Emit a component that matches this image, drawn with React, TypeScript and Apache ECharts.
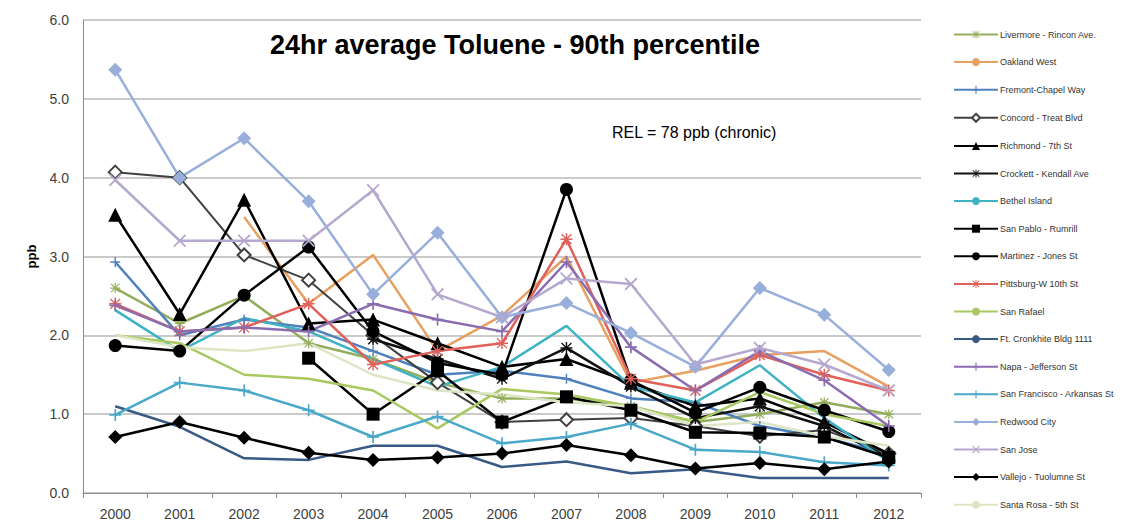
import React, { useEffect, useRef } from "react";
import * as echarts from "echarts";

const years = ["2000", "2001", "2002", "2003", "2004", "2005", "2006", "2007", "2008", "2009", "2010", "2011", "2012"];

const livermore = [2.6, 2.15, 2.5, 1.9, 1.7, 1.4, 1.2, 1.2, 1.1, 0.9, 1.0, 1.15, 1.0];
const oakland = [null, null, 3.5, 2.4, 3.02, 1.8, 2.25, 3.0, 1.4, 1.55, 1.75, 1.8, 1.35];
const fremont = [2.93, 2.0, 2.2, 2.1, 1.8, 1.5, 1.55, 1.45, 1.2, 1.15, 0.85, 0.7, 0.5];
const concord = [4.07, 4.0, 3.02, 2.7, 2.0, 1.4, 0.9, 0.93, 0.95, 0.85, 0.72, 0.8, 0.5];
const richmond = [3.53, 2.27, 3.72, 2.15, 2.2, 1.9, 1.6, 1.7, 1.4, 1.1, 1.2, 0.9, 0.5];
const crockett = [null, null, null, null, 1.95, 1.7, 1.45, 1.84, 1.35, 0.95, 1.1, 0.85, 0.45];
const bethel = [2.32, 1.8, 2.22, 2.05, 1.7, 1.35, 1.6, 2.12, 1.35, 1.15, 1.62, 0.95, 0.4];
const sanPablo = [null, null, null, 1.71, 1.0, 1.55, 0.9, 1.22, 1.05, 0.77, 0.76, 0.71, 0.45];
const martinez = [1.87, 1.8, 2.51, 3.12, 2.05, 1.65, 1.5, 3.85, 1.43, 1.02, 1.34, 1.05, 0.78];
const pittsburg = [2.4, 2.05, 2.1, 2.4, 1.63, 1.8, 1.9, 3.22, 1.45, 1.3, 1.75, 1.5, 1.3];
const sanRafael = [2.0, 1.9, 1.5, 1.45, 1.3, 0.82, 1.32, 1.25, 1.1, 0.9, 1.28, 1.0, 0.85];
const cronkhite = [1.1, 0.84, 0.44, 0.42, 0.6, 0.6, 0.33, 0.4, 0.25, 0.3, 0.19, 0.19, 0.19];
const napa = [2.38, 2.05, 2.1, 2.05, 2.4, 2.2, 2.05, 2.93, 1.85, 1.3, 1.8, 1.43, 0.85];
const sanFrancisco = [0.99, 1.4, 1.3, 1.05, 0.71, 0.97, 0.63, 0.71, 0.88, 0.55, 0.52, 0.39, 0.35];
const redwood = [5.37, 4.0, 4.5, 3.7, 2.52, 3.3, 2.23, 2.41, 2.03, 1.6, 2.6, 2.26, 1.56];
const sanJose = [3.97, 3.2, 3.2, 3.2, 3.84, 2.52, 2.23, 2.72, 2.65, 1.63, 1.84, 1.63, 1.3];
const vallejo = [0.71, 0.9, 0.7, 0.51, 0.42, 0.45, 0.5, 0.61, 0.48, 0.31, 0.38, 0.3, 0.4];
const santaRosa = [2.0, 1.85, 1.8, 1.9, 1.5, 1.3, 1.25, 1.15, 1.1, 0.85, 0.9, 0.72, 0.6];

const yTicks = [0, 1, 2, 3, 4, 5, 6];

const PLUS = "path://M4.3,0h1.4v10h-1.4z M0,4.3h10v1.4h-10z";
const XMARK = "path://M0,1L1,0L10,9L9,10z M9,0L10,1L1,10L0,9z";
const STAR = "path://M4.4,0h1.2v10h-1.2z M0,4.4h10v1.2h-10z M0.5,1.3L1.3,0.5L9.5,8.7L8.7,9.5z M8.7,0.5L9.5,1.3L1.3,9.5L0.5,8.7z";

type S = { name: string; data: (number | null)[]; color: string; symbol: string; size: number; width: number };

const seriesDefs: S[] = [
  { name: "Livermore - Rincon Ave.", data: livermore, color: "#93AE5B", symbol: STAR, size: 10, width: 2.5 },
  { name: "Oakland West", data: oakland, color: "#E8A060", symbol: "none", size: 0, width: 2.5 },
  { name: "Fremont-Chapel Way", data: fremont, color: "#4F81BD", symbol: PLUS, size: 10, width: 2.5 },
  { name: "Concord - Treat Blvd", data: concord, color: "#404040", symbol: "emptyDiamond", size: 13, width: 2 },
  { name: "Richmond - 7th St", data: richmond, color: "#000000", symbol: "triangle", size: 14, width: 2.5 },
  { name: "Crockett - Kendall Ave", data: crockett, color: "#111111", symbol: STAR, size: 12, width: 2.5 },
  { name: "Bethel Island", data: bethel, color: "#3FB3C3", symbol: "none", size: 0, width: 2.5 },
  { name: "San Pablo - Rumrill", data: sanPablo, color: "#000000", symbol: "rect", size: 13, width: 2.5 },
  { name: "Martinez - Jones St", data: martinez, color: "#000000", symbol: "circle", size: 13, width: 2.5 },
  { name: "Pittsburg-W 10th St", data: pittsburg, color: "#E0605A", symbol: STAR, size: 12, width: 2.5 },
  { name: "San Rafael", data: sanRafael, color: "#A8C860", symbol: "none", size: 0, width: 2.5 },
  { name: "Ft. Cronkhite Bldg 1111", data: cronkhite, color: "#3A5A86", symbol: "none", size: 0, width: 2.5 },
  { name: "Napa - Jefferson St", data: napa, color: "#8A6CB0", symbol: PLUS, size: 12, width: 2.5 },
  { name: "San Francisco - Arkansas St", data: sanFrancisco, color: "#4AA8C8", symbol: PLUS, size: 12, width: 2.5 },
  { name: "Redwood City", data: redwood, color: "#98AEDB", symbol: "diamond", size: 14, width: 2.5 },
  { name: "San Jose", data: sanJose, color: "#B5A8CF", symbol: XMARK, size: 13, width: 2.5 },
  { name: "Vallejo - Tuolumne St", data: vallejo, color: "#000000", symbol: "diamond", size: 14, width: 2.5 },
  { name: "Santa Rosa - 5th St", data: santaRosa, color: "#DCE6C4", symbol: "none", size: 0, width: 2.5 },
];

export default function App() {
  const ref = useRef<HTMLDivElement>(null);
  useEffect(() => {
    if (!ref.current) return;
    const chart = echarts.init(ref.current, null, { renderer: "svg" });
    chart.setOption({
      animation: false,
      backgroundColor: "#ffffff",
      title: {
        text: "24hr average Toluene - 90th percentile",
        left: 510,
        top: 26,
        textAlign: "center",
        textStyle: { fontFamily: "Liberation Sans", fontWeight: "bold", fontSize: 27, color: "#000" },
      },
      graphic: [
        {
          type: "text",
          left: 612,
          top: 124,
          style: { text: "REL = 78 ppb (chronic)", fontFamily: "Liberation Sans", fontSize: 16, fill: "#000" },
        },
      ],
      legend: {
        orient: "vertical",
        left: 948,
        top: 25,
        itemWidth: 44,
        itemHeight: 10,
        itemGap: 18.6,
        textStyle: { fontFamily: "Liberation Sans", fontSize: 9, color: "#333", padding: [0, 0, 0, -3] },
        data: seriesDefs.map((s) => s.name),
      },
      grid: { left: 83, right: 211, top: 20, bottom: 36 },
      xAxis: {
        type: "category",
        data: years,
        boundaryGap: true,
        axisLine: { lineStyle: { color: "#8C8C8C", width: 1 } },
        axisTick: { show: true, length: 5, lineStyle: { color: "#8C8C8C" } },
        axisLabel: { fontFamily: "Liberation Sans", fontSize: 14, color: "#404040", margin: 14 },
      },
      yAxis: {
        type: "value",
        min: yTicks[0],
        max: yTicks[yTicks.length - 1],
        interval: 1,
        name: "ppb",
        nameLocation: "middle",
        nameGap: 45,
        nameRotate: 90,
        nameTextStyle: { fontFamily: "Liberation Sans", fontWeight: "bold", fontSize: 13, color: "#000" },
        axisLine: { show: true, lineStyle: { color: "#8C8C8C" } },
        axisTick: { show: false },
        splitLine: { lineStyle: { color: "#B8B8B8", width: 1.5 } },
        axisLabel: { fontFamily: "Liberation Sans", fontSize: 14, color: "#404040", margin: 14, formatter: (v: number) => v.toFixed(1) },
      },
      series: seriesDefs.map((s) => ({
        name: s.name,
        type: "line",
        data: s.data,
        symbol: s.symbol,
        symbolSize: s.size,
        showSymbol: s.symbol !== "none",
        connectNulls: false,
        lineStyle: { color: s.color, width: s.width },
        itemStyle: { color: s.color, borderColor: s.color, borderWidth: s.symbol === "emptyDiamond" ? 1.5 : 0 },
        emphasis: { disabled: true },
      })),
    });
    return () => chart.dispose();
  }, []);
  return <div ref={ref} style={{ width: 1132, height: 529, position: "absolute", left: 0, top: 0 }} />;
}
